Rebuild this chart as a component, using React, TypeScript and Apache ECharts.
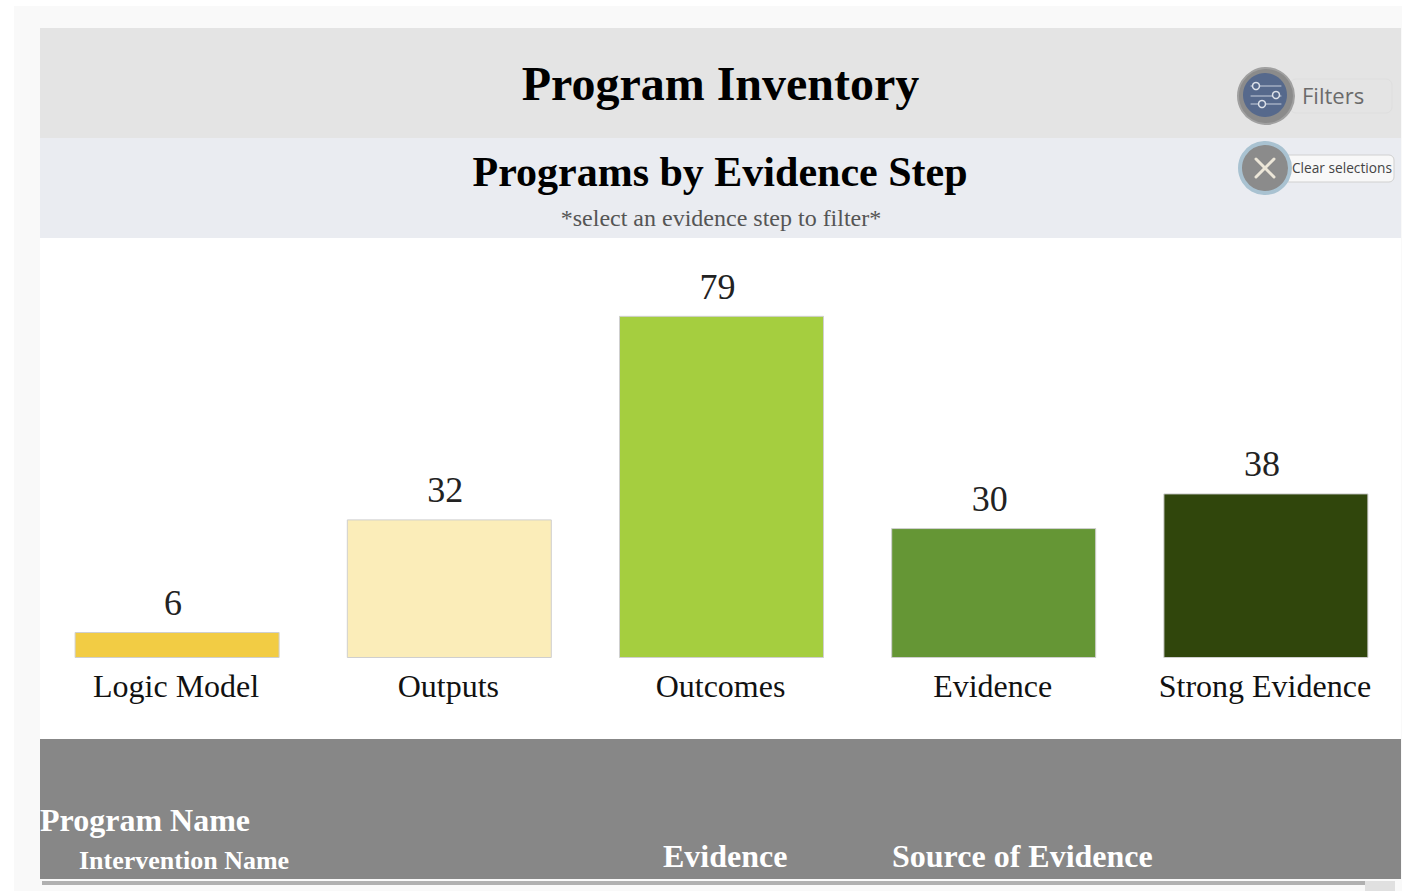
import React, { useEffect, useRef } from "react";
import * as echarts from "echarts";

const categories = ["Logic Model", "Outputs", "Outcomes", "Evidence", "Strong Evidence"];
const programCounts = [6, 32, 79, 30, 38];
const barColors = ["#f2cc44", "#fbedb9", "#a5ce3f", "#659635", "#30460c"];
const pageTitle = "Program Inventory";
const chartTitle = "Programs by Evidence Step";
const chartHint = "*select an evidence step to filter*";
const filtersLabel = "Filters";
const clearLabel = "Clear selections";

const SERIF = "'Liberation Serif', serif";
const SANS = "'Open Sans', sans-serif";

const rect = (x: number, y: number, width: number, height: number, fill: string, z = -10, extra: any = {}) => ({
  type: "rect", silent: true, z, shape: { x, y, width, height, ...(extra.shape || {}) },
  style: { fill, ...(extra.style || {}) },
});
const text = (x: number, y: number, t: string, font: string, fill: string, align = "left") => ({
  type: "text", silent: true, z: 5, x, y,
  style: { text: t, font, fill, textAlign: align, textVerticalAlign: "middle" },
});
const line = (x1: number, y1: number, x2: number, y2: number, stroke: string, lineWidth = 1.5) => ({
  type: "line", silent: true, z: 7, shape: { x1, y1, x2, y2 }, style: { stroke, lineWidth, lineCap: "round" },
});
const circle = (cx: number, cy: number, r: number, fill: string, stroke?: string, lineWidth = 1, z = 6) => ({
  type: "circle", silent: true, z, shape: { cx, cy, r }, style: { fill, stroke, lineWidth },
});

export default function App() {
  const ref = useRef<HTMLDivElement>(null);
  useEffect(() => {
    const chart = echarts.init(ref.current!, null, { renderer: "svg" });
    chart.setOption({
      animation: false,
      backgroundColor: "#ffffff",
      grid: { left: 41, top: 311.5, width: 1361, height: 346.5, containLabel: false },
      xAxis: {
        type: "category",
        data: categories,
        axisLine: { show: false },
        axisTick: { show: false },
        axisLabel: { color: "#111111", fontFamily: SERIF, fontSize: 32, margin: 11.5, interval: 0, padding: [0, 2, 0, 0] },
      },
      yAxis: { type: "value", min: 0, max: 80, show: false, splitLine: { show: false } },
      series: [
        {
          type: "bar",
          barWidth: 205,
          data: programCounts.map((value, i) => ({
            value,
            itemStyle: { color: barColors[i], borderColor: "#cfcfcf", borderWidth: 1 },
          })),
          label: {
            show: true,
            position: "top",
            distance: 11,
            offset: [-4, 0],
            color: "#222222",
            fontFamily: SERIF,
            fontSize: 36,
          },
        },
      ],
      graphic: {
        elements: [
          rect(14, 6, 1388, 885, "#f9f9f9", -20),
          rect(40, 28, 1361, 110, "#e4e4e4"),
          rect(40, 138, 1361, 100, "#eaecf1"),
          rect(40, 238, 1361, 501, "#ffffff"),
          rect(40, 739, 1361, 140, "#878787", -10),
          rect(42, 881, 1323, 4, "#b0b0b0"),
          rect(1365, 881, 30, 10, "#e0e0e0"),

          text(720.5, 83, pageTitle, `bold 48px ${SERIF}`, "#000000", "center"),
          text(720, 171.5, chartTitle, `bold 42px ${SERIF}`, "#000000", "center"),
          text(721, 218, chartHint, `24px ${SERIF}`, "#555555", "center"),

          text(40, 819.5, "Program Name", `bold 32px ${SERIF}`, "#ffffff"),
          text(79, 860, "Intervention Name", `bold 26px ${SERIF}`, "#ffffff"),
          text(663, 855.5, "Evidence", `bold 32px ${SERIF}`, "#ffffff"),
          text(892, 855.5, "Source of Evidence", `bold 32px ${SERIF}`, "#ffffff"),

          rect(1290, 79, 102, 34, "#e4e4e4", 1, { shape: { r: 6 }, style: { stroke: "#dedede", lineWidth: 1 } }),
          text(1302, 94.5, filtersLabel, `22px ${SANS}`, "#6b6b6b"),
          circle(1266, 96, 28, "#8b8b8b", "#a0a0a0", 2),
          circle(1265, 95, 22, "#56698c"),
          line(1251, 86, 1281, 86, "#c8d0dc", 1),
          line(1251, 96, 1281, 96, "#c8d0dc", 1),
          line(1251, 104, 1281, 104, "#c8d0dc", 1),
          { ...circle(1256, 86, 3.5, "#56698c", "#dde2ea", 1.5), z: 8 },
          { ...circle(1276, 95, 3.5, "#56698c", "#dde2ea", 1.5), z: 8 },
          { ...circle(1262, 104, 3.5, "#56698c", "#dde2ea", 1.5), z: 8 },

          rect(1284, 155, 110, 27, "#f8f8f8", 1, { shape: { r: 5 }, style: { stroke: "#d0d0d0", lineWidth: 1 } }),
          text(1292, 167, clearLabel, `13.7px ${SANS}`, "#444444"),
          circle(1265, 168, 25, "#8b8b8b", "#a9c2d1", 4),
          line(1256, 159, 1274, 177, "#ece6d8", 3),
          line(1274, 159, 1256, 177, "#ece6d8", 3),
        ],
      },
    });
    return () => chart.dispose();
  }, []);
  return (
    <div
      ref={ref}
      style={{ position: "fixed", left: 0, top: 0, width: 1402, height: 891 }}
    />
  );
}
